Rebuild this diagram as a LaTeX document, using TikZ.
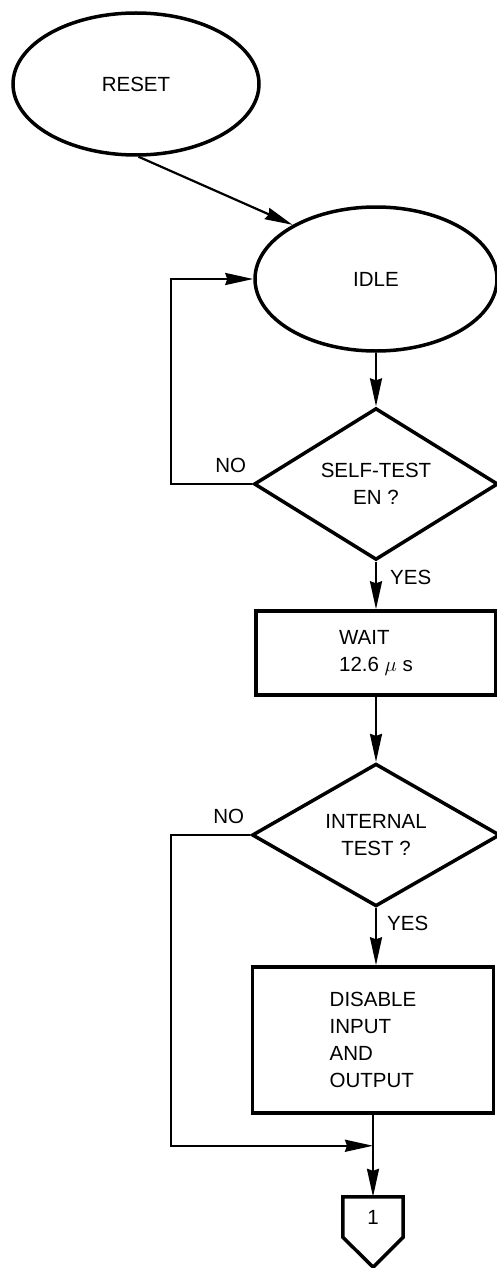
\documentclass[tikz,border=0pt]{standalone}
\usepackage{fontspec}
\setmainfont{Liberation Sans}
\usetikzlibrary{shapes.geometric,arrows.meta,positioning}
\begin{document}
\begin{tikzpicture}[x=1pt,y=-1pt,
    font=\fontsize{20.5}{27}\selectfont,
    state/.style={draw,ellipse,line width=3.5pt,inner sep=0pt},
    test/.style={draw,diamond,line width=3.5pt,inner sep=0pt,align=center},
    action/.style={draw,rectangle,line width=3.5pt,align=left,inner sep=0pt},
    lbl/.style={inner sep=0pt},
    flow/.style={line width=2.2pt},
    arrow/.style={flow,-{Stealth[length=28pt,width=12pt,inset=2pt]}}]
  % Page size
  \useasboundingbox (0,0) rectangle (496,1268);

  % States
  \node[state,minimum width=246pt,minimum height=142pt] (reset) at (136,84) {RESET};
  \node[state,minimum width=242pt,minimum height=144pt] (idle) at (376,279) {IDLE};

  % Tests and actions
  \node[test,minimum width=244pt,minimum height=142pt] (selftest) at (376,484) {SELF-TEST\\EN ?};
  \node[action,minimum width=240pt,minimum height=84pt] (wait) at (376,653) {WAIT\\12.6 $\mu$ s};
  \node[test,minimum width=248pt,minimum height=141pt] (internal) at (376,835) {INTERNAL\\TEST ?};
  \node[action,minimum width=241pt,minimum height=146pt] (disable) at (373,1040) {DISABLE\\INPUT\\AND\\OUTPUT};

  % Off-page connector
  \node[minimum width=60pt,minimum height=40pt,inner sep=0pt] (conn) at (373,1217) {1};
  \draw[line width=3.5pt,line join=miter] (conn.south west) -- (conn.north west) -- (conn.north east)
    -- (conn.south east) -- ++(-30,30) -- cycle;
  \coordinate[below=31pt of disable.south] (join);

  % Connectors
  \draw[arrow] (reset.-88) -- (idle.147);
  \draw[arrow] (idle.south) -- (selftest.north);
  \draw[arrow] (selftest.west) -- ++(-81,0) |- (idle.west);
  \draw[arrow] (selftest.south) -- (wait.north);
  \draw[arrow] (wait.south) -- (internal.north);
  \draw[arrow] (internal.south) -- (internal.south |- disable.north);
  \draw[flow] (disable.south) -- (join);
  \draw[arrow] (internal.west) -- ++(-79,0) |- (join);
  \draw[arrow] (join) -- (conn.north);

  % Branch labels
  \node[lbl,above left=11pt and 6pt of selftest.west] (no1) {NO};
  \node[lbl,below right=8pt and 14pt of selftest.south] (yes1) {YES};
  \node[lbl,above left=11pt and 6pt of internal.west] (no2) {NO};
  \node[lbl,below right=8pt and 11pt of internal.south] (yes2) {YES};
\end{tikzpicture}
\end{document}
